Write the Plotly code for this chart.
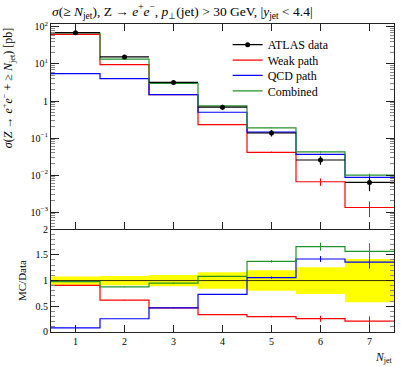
import plotly.graph_objects as go
from plotly.subplots import make_subplots

# Cross sections (pb) per inclusive jet multiplicity
njet = [1, 2, 3, 4, 5, 6, 7]
atlas_data = [70.0, 15.5, 3.17, 0.68, 0.137, 0.0255, 0.00634]
atlas_rel_err = [0.08, 0.09, 0.11, 0.16, 0.20, 0.26, 0.42]
weak_path = [63.4, 9.6, 1.49, 0.231, 0.0411, 0.0066, 0.00133]
weak_err = [0.6, 0.1, 0.015, 0.003, 0.002, 0.0015, 0.0006]
qcd_path = [5.5, 4.0, 1.49, 0.497, 0.145, 0.0362, 0.00862]
qcd_err = [0.05, 0.04, 0.015, 0.006, 0.003, 0.0015, 0.0008]
combined = [68.6, 13.6, 3.01, 0.735, 0.188, 0.0423, 0.00995]
comb_err = [0.6, 0.1, 0.03, 0.007, 0.003, 0.002, 0.001]

FONT = 'Liberation Serif'
ROUGE = '#ff0000'
BLEU = '#0000ff'
VERT = '#22922a'

edges = [n - 0.5 for n in njet] + [njet[-1] + 0.5]


def step(vals):
    return list(vals) + [vals[-1]]


fig = make_subplots(rows=2, cols=1, shared_xaxes=False, vertical_spacing=0,
                    row_heights=[0.666, 0.334])

mc = [
    ('Weak path', weak_path, weak_err, ROUGE, 'legend2'),
    ('QCD path', qcd_path, qcd_err, BLEU, 'legend3'),
    ('Combined', combined, comb_err, VERT, 'legend4'),
]

# legend entry for data
fig.add_trace(go.Scatter(x=[None], y=[None], mode='lines+markers', name='ATLAS data',
                         line=dict(color='black', width=1.2), legend='legend',
                         marker=dict(color='black', size=5)), row=1, col=1)

# --- panneau principal ---
for nom, vals, errs, cor, leg in mc:
    fig.add_trace(go.Scatter(x=edges, y=step(vals), mode='lines', line_shape='hv',
                             name=nom, legend=leg, line=dict(color=cor, width=1.2)),
                  row=1, col=1)
    fig.add_trace(go.Scatter(x=njet, y=vals, mode='markers', showlegend=False,
                             marker=dict(size=0.1, color=cor),
                             error_y=dict(type='data', array=errs, color=cor,
                                          thickness=1, width=0)), row=1, col=1)

fig.add_trace(go.Scatter(
    x=njet, y=atlas_data, mode='markers', showlegend=False,
    marker=dict(color='black', size=5),
    error_x=dict(type='constant', value=0.5, color='black', thickness=1.2, width=0),
    error_y=dict(type='data', array=[d * r for d, r in zip(atlas_data, atlas_rel_err)],
                 color='black', thickness=1.2, width=0)), row=1, col=1)

# --- panneau de razão ---
band_lo = [1 - r for r in atlas_rel_err]
band_hi = [1 + r for r in atlas_rel_err]
fig.add_trace(go.Scatter(x=edges, y=step(band_lo), mode='lines', line_shape='hv',
                         line=dict(width=0, color='#ffff00'), showlegend=False),
              row=2, col=1)
fig.add_trace(go.Scatter(x=edges, y=step(band_hi), mode='lines', line_shape='hv',
                         line=dict(width=0, color='#ffff00'), fill='tonexty',
                         fillcolor='#ffff00', showlegend=False), row=2, col=1)
fig.add_trace(go.Scatter(x=[edges[0], edges[-1]], y=[1, 1], mode='lines',
                         line=dict(color='black', width=0.8), showlegend=False),
              row=2, col=1)

for nom, vals, errs, cor, leg in mc:
    ratio = [v / d for v, d in zip(vals, atlas_data)]
    ratio_err = [e / d for e, d in zip(errs, atlas_data)]
    fig.add_trace(go.Scatter(x=edges, y=step(ratio), mode='lines', line_shape='hv',
                             showlegend=False, line=dict(color=cor, width=1.2)),
                  row=2, col=1)
    fig.add_trace(go.Scatter(x=njet, y=ratio, mode='markers', showlegend=False,
                             marker=dict(size=0.1, color=cor),
                             error_y=dict(type='data', array=ratio_err, color=cor,
                                          thickness=1, width=0)), row=2, col=1)

# axes
eixo = dict(showline=True, linecolor='#222222', linewidth=1, mirror='ticks',
            ticks='inside', tickcolor='#222222', showgrid=False, zeroline=False,
            tickfont=dict(family=FONT, size=10, color='black'))

log_vals = [1e-3, 1e-2, 1e-1, 1, 10, 100]
log_text = ['10<sup>−3</sup>', '10<sup>−2</sup>', '10<sup>−1</sup>', '1',
            '10<sup>1</sup>', '10<sup>2</sup>']
minor_vals = [k * 10.0 ** p for p in range(-4, 3) for k in range(2, 10)]

fig.update_xaxes(eixo, range=[0.5, 7.5], tickvals=njet, ticklen=7, row=1, col=1,
                 showticklabels=False)
fig.update_xaxes(eixo, range=[0.5, 7.5], tickvals=njet, ticklen=7, mirror=False,
                 row=2, col=1)
fig.update_yaxes(eixo, type='log', range=[-3.46, 2.08], tickvals=log_vals,
                 ticktext=log_text, ticklen=8,
                 minor=dict(tickvals=minor_vals, ticks='inside', ticklen=4,
                            tickcolor='#888888'),
                 row=1, col=1)
fig.update_yaxes(eixo, range=[0, 2], tickvals=[0, 0.5, 1, 1.5, 2], ticklen=8,
                 minor=dict(dtick=0.1, ticks='inside', ticklen=4, tickcolor='#888888'),
                 title=dict(text='MC/Data', font=dict(family=FONT, size=11, color='black'),
                            standoff=6),
                 row=2, col=1)

# título do eixo y alinhado ao topo (estilo Rivet)
fig.add_annotation(text='<i>σ</i>(<i>Z</i> → <i>e</i><sup>+</sup><i>e</i><sup>−</sup>'
                        ' + ≥ <i>N</i><sub>jet</sub>) [pb]',
                   xref='paper', yref='paper', x=-0.125, y=0.792, textangle=-90,
                   xanchor='center', yanchor='middle', showarrow=False,
                   font=dict(family=FONT, size=12, color='black'))
fig.add_annotation(text='<i>σ</i>(≥ <i>N</i><sub>jet</sub>), Z → <i>e</i><sup>+</sup>'
                        '<i>e</i><sup>−</sup>, <i>p</i><sub>⊥</sub>(jet) > 30 GeV, '
                        '|<i>y</i><sub>jet</sub> < 4.4|',
                   xref='paper', yref='paper', x=-0.003, y=1.039, xanchor='left',
                   yanchor='middle', showarrow=False,
                   font=dict(family=FONT, size=13.5, color='black'))
fig.add_annotation(text='<i>N</i><sub>jet</sub>', xref='paper', yref='paper',
                   x=1.0, y=-0.085, xanchor='right', yanchor='middle', showarrow=False,
                   font=dict(family=FONT, size=11.5, color='black'))

# uma legenda por entrada, para controlar o espaçamento
leg_base = dict(x=0.515, xanchor='left', yanchor='middle', bgcolor='rgba(0,0,0,0)',
                font=dict(family=FONT, size=12, color='black'))
fig.update_layout(
    width=407, height=367,
    margin=dict(l=51, r=13, t=24, b=35),
    plot_bgcolor='white', paper_bgcolor='white',
    font=dict(family=FONT, color='black'),
    legend=dict(leg_base, y=0.933),
    legend2=dict(leg_base, y=0.883),
    legend3=dict(leg_base, y=0.833),
    legend4=dict(leg_base, y=0.783),
)

fig.write_html('out.html', config={'displayModeBar': False},
               post_script="document.body.style.margin='0px';")
